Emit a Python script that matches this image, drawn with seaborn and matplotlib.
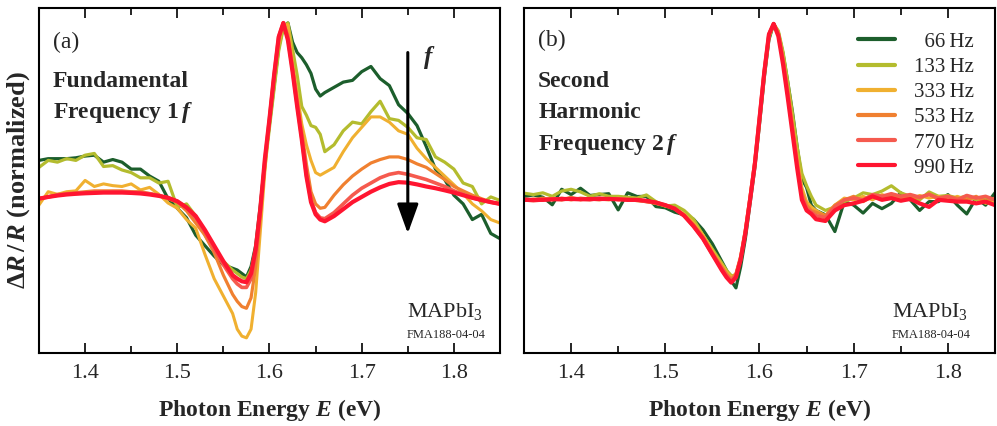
import numpy as np
import pandas as pd
import matplotlib
matplotlib.use("Agg")
import matplotlib.pyplot as plt
import seaborn as sns

# ---------------- data ----------------
energy = [1.35, 1.36, 1.37, 1.38, 1.39, 1.40, 1.41, 1.42, 1.43, 1.44,
          1.45, 1.46, 1.47, 1.48, 1.49, 1.50, 1.51, 1.52, 1.53, 1.54,
          1.55, 1.56, 1.565, 1.57, 1.575, 1.58, 1.585, 1.59, 1.595, 1.60,
          1.605, 1.61, 1.615, 1.62, 1.625, 1.63, 1.635, 1.64, 1.645, 1.65,
          1.655, 1.66, 1.67, 1.68, 1.69, 1.70, 1.71, 1.72, 1.73, 1.74,
          1.75, 1.76, 1.77, 1.78, 1.79, 1.80, 1.81, 1.82, 1.83, 1.84,
          1.85]

freq_labels = ["66", "133", "333", "533", "770", "990"]

# Panel (a): fundamental 1f
a_66 = [0.21, 0.22, 0.22, 0.22, 0.225, 0.235, 0.24, 0.20, 0.215, 0.20,
        0.16, 0.16, 0.12, 0.09, -0.01, -0.065, -0.12, -0.22, -0.28, -0.34,
        -0.39, -0.41, -0.42, -0.44, -0.46, -0.40, -0.28, -0.05, 0.20, 0.42,
        0.64, 0.86, 0.98, 1.0, 0.89, 0.83, 0.80, 0.76, 0.71, 0.62,
        0.58, 0.60, 0.63, 0.66, 0.67, 0.72, 0.75, 0.68, 0.64, 0.53,
        0.48, 0.41, 0.29, 0.16, 0.10, 0.01, -0.04, -0.13, -0.10, -0.21,
        -0.24]
a_133 = [0.17, 0.21, 0.20, 0.22, 0.21, 0.24, 0.25, 0.175, 0.18, 0.155,
         0.14, 0.11, 0.11, 0.08, 0.09, -0.06, -0.04, -0.11, -0.22, -0.31,
         -0.37, -0.42, -0.44, -0.46, -0.47, -0.42, -0.30, -0.08, 0.17, 0.40,
         0.62, 0.84, 0.97, 1.0, 0.85, 0.70, 0.52, 0.47, 0.41, 0.40,
         0.36, 0.26, 0.30, 0.38, 0.43, 0.42, 0.49, 0.55, 0.45, 0.44,
         0.40, 0.34, 0.33, 0.23, 0.20, 0.16, 0.08, 0.06, -0.04, 0.0,
         -0.02]
a_333 = [-0.046, 0.03, 0.015, 0.03, 0.035, 0.095, 0.06, 0.075, 0.065, 0.06,
         0.075, 0.04, 0.055, 0.015, -0.035, -0.065, -0.13, -0.18, -0.33, -0.47,
         -0.57, -0.67, -0.76, -0.80, -0.81, -0.76, -0.55, -0.20, 0.15, 0.45,
         0.70, 0.88, 0.99, 0.99, 0.77, 0.60, 0.42, 0.30, 0.21, 0.14,
         0.125, 0.14, 0.17, 0.26, 0.34, 0.40, 0.46, 0.46, 0.43, 0.38,
         0.36, 0.28, 0.22, 0.17, 0.12, 0.07, 0.02, -0.04, -0.08, -0.13,
         -0.15]
a_533 = [-0.01, 0.0, 0.015, 0.02, 0.025, 0.03, 0.035, 0.035, 0.035, 0.035,
         0.03, 0.03, 0.02, 0.01, -0.01, -0.03, -0.08, -0.15, -0.22, -0.32,
         -0.45, -0.56, -0.60, -0.63, -0.64, -0.58, -0.40, -0.12, 0.18, 0.44,
         0.69, 0.90, 1.0, 0.93, 0.75, 0.56, 0.38, 0.19, 0.03, -0.04,
         -0.065, -0.06, 0.01, 0.07, 0.12, 0.16, 0.195, 0.215, 0.23, 0.23,
         0.215, 0.19, 0.17, 0.135, 0.10, 0.06, 0.035, 0.01, -0.01, -0.03,
         -0.04]
a_770 = [-0.01, 0.0, 0.01, 0.017, 0.02, 0.024, 0.027, 0.028, 0.03, 0.03,
         0.027, 0.024, 0.018, 0.008, -0.005, -0.025, -0.065, -0.12, -0.20, -0.30,
         -0.39, -0.47, -0.50, -0.52, -0.52, -0.47, -0.32, -0.08, 0.21, 0.45,
         0.70, 0.92, 1.0, 0.91, 0.73, 0.53, 0.34, 0.13, -0.02, -0.09,
         -0.12, -0.125, -0.09, -0.04, 0.01, 0.05, 0.08, 0.11, 0.13, 0.14,
         0.13, 0.115, 0.10, 0.08, 0.06, 0.035, 0.015, -0.005, -0.018, -0.03,
         -0.04]
a_990 = [-0.01, 0.0, 0.008, 0.014, 0.018, 0.021, 0.023, 0.025, 0.025, 0.025,
         0.023, 0.02, 0.014, 0.006, -0.005, -0.025, -0.06, -0.11, -0.19, -0.28,
         -0.37, -0.45, -0.47, -0.485, -0.49, -0.44, -0.30, -0.07, 0.22, 0.45,
         0.70, 0.92, 1.0, 0.90, 0.72, 0.52, 0.33, 0.12, -0.03, -0.10,
         -0.13, -0.14, -0.11, -0.07, -0.03, 0.0, 0.03, 0.055, 0.075, 0.085,
         0.082, 0.072, 0.06, 0.05, 0.038, 0.025, 0.01, -0.005, -0.018, -0.03,
         -0.04]

# Panel (b): second harmonic 2f
b_66 = [0.019, 0.028, 0.015, -0.028, 0.06, 0.03, 0.066, 0.025, 0.03, 0.035,
        -0.057, 0.04, 0.019, 0.02, -0.038, -0.045, -0.07, -0.085, -0.11, -0.17,
        -0.25, -0.35, -0.40, -0.46, -0.50, -0.38, -0.22, -0.02, 0.18, 0.43,
        0.69, 0.91, 1.0, 0.95, 0.83, 0.67, 0.50, 0.30, 0.12, 0.07,
        -0.03, -0.06, -0.085, -0.18, -0.01, -0.03, -0.075, -0.02, -0.05, -0.02,
        0.04, 0.0, -0.06, -0.01, -0.01, 0.03, -0.03, -0.08, 0.01, -0.03,
        0.04]
b_133 = [0.038, 0.03, 0.04, 0.02, 0.05, 0.06, 0.045, 0.02, 0.035, 0.02,
         0.02, 0.015, 0.01, 0.028, -0.01, -0.035, -0.03, -0.06, -0.11, -0.20,
         -0.28, -0.36, -0.40, -0.43, -0.43, -0.34, -0.19, 0.0, 0.19, 0.44,
         0.70, 0.92, 1.0, 0.96, 0.84, 0.67, 0.49, 0.30, 0.15, 0.08,
         0.02, -0.03, -0.06, -0.04, -0.01, 0.01, 0.04, 0.03, 0.05, 0.08,
         0.04, 0.02, 0.0, 0.045, 0.02, 0.025, 0.01, 0.02, 0.0, 0.01,
         -0.01]
b_333 = [-0.005, 0.005, 0.0, 0.01, 0.0, 0.015, 0.0, 0.01, 0.005, 0.0,
         0.01, 0.0, 0.005, -0.01, -0.02, -0.035, -0.05, -0.08, -0.13, -0.20,
         -0.29, -0.37, -0.41, -0.44, -0.42, -0.33, -0.18, 0.01, 0.21, 0.46,
         0.72, 0.93, 1.0, 0.95, 0.81, 0.63, 0.44, 0.25, 0.07, -0.01,
         -0.04, -0.06, -0.09, -0.03, 0.01, 0.0, 0.02, 0.0, 0.03, 0.01,
         0.02, 0.0, 0.025, 0.01, 0.02, 0.0, 0.02, 0.0, 0.015, -0.02,
         0.0]
b_533 = [0.005, 0.0, 0.01, 0.0, 0.01, 0.0, 0.01, 0.005, 0.0, 0.01,
         0.0, 0.005, -0.005, -0.01, -0.02, -0.03, -0.05, -0.09, -0.14, -0.21,
         -0.30, -0.38, -0.42, -0.45, -0.42, -0.32, -0.17, 0.02, 0.22, 0.47,
         0.73, 0.94, 1.0, 0.95, 0.80, 0.62, 0.42, 0.22, 0.04, -0.03,
         -0.06, -0.07, -0.09, -0.03, 0.0, 0.02, -0.01, 0.02, 0.01, 0.03,
         0.0, 0.02, 0.01, 0.035, 0.0, 0.02, 0.01, 0.0, 0.02, -0.01,
         0.01]
b_770 = [0.0, -0.005, 0.0, 0.005, 0.0, 0.01, 0.005, 0.0, 0.01, 0.005,
         0.005, 0.0, 0.0, -0.01, -0.015, -0.03, -0.05, -0.09, -0.15, -0.22,
         -0.31, -0.39, -0.43, -0.46, -0.43, -0.33, -0.18, 0.01, 0.21, 0.47,
         0.73, 0.94, 1.0, 0.94, 0.79, 0.60, 0.40, 0.20, 0.02, -0.05,
         -0.07, -0.09, -0.10, -0.04, 0.0, 0.01, 0.0, 0.03, 0.02, 0.035,
         0.02, 0.03, 0.015, 0.03, 0.01, 0.02, 0.0, 0.025, 0.01, 0.02,
         0.0]
b_990 = [0.0, 0.0, 0.0, 0.003, 0.005, 0.005, 0.003, 0.005, 0.005, 0.005,
         0.003, 0.0, 0.0, -0.005, -0.015, -0.03, -0.05, -0.09, -0.15, -0.22,
         -0.31, -0.40, -0.44, -0.47, -0.44, -0.34, -0.19, 0.0, 0.20, 0.46,
         0.72, 0.94, 1.0, 0.93, 0.77, 0.58, 0.38, 0.18, 0.0, -0.06,
         -0.08, -0.11, -0.12, -0.06, -0.03, -0.02, -0.005, 0.02, 0.0, 0.01,
         -0.005, 0.005, -0.02, -0.04, 0.0, -0.005, -0.01, -0.01, -0.02, -0.01,
         -0.03]

x_ticks = [1.4, 1.5, 1.6, 1.7, 1.8]
x_tick_labels = ["1.4", "1.5", "1.6", "1.7", "1.8"]

# ---------------- style ----------------
colors = ["#1c5e2c", "#b4bc2e", "#f0b030", "#f08030", "#f55a4e", "#ff1530"]
widths = [2.3, 2.3, 2.2, 2.3, 2.6, 3.0]

sns.set_style("ticks")
plt.rcParams.update({
    "font.family": ["Liberation Serif", "DejaVu Serif"],
    "mathtext.fontset": "custom",
    "mathtext.rm": "Liberation Serif",
    "mathtext.it": "Liberation Serif:italic",
    "mathtext.bf": "Liberation Serif:bold",
    "mathtext.bfit": "Liberation Serif:italic:bold",
    "axes.edgecolor": "black",
    "axes.linewidth": 1.5,
})

fig = plt.figure(figsize=(9.97, 4.26), dpi=100)
ax_a = fig.add_axes([39 / 997, 1 - 353 / 426, 461 / 997, 345 / 426])
ax_b = fig.add_axes([524 / 997, 1 - 353 / 426, 471 / 997, 345 / 426])

series_a = [a_66, a_133, a_333, a_533, a_770, a_990]
series_b = [b_66, b_133, b_333, b_533, b_770, b_990]

for ax, series in ((ax_a, series_a), (ax_b, series_b)):
    for lab, vals, c, w in zip(freq_labels, series, colors, widths):
        df = pd.DataFrame({"E": energy, "R": vals})
        sns.lineplot(data=df, x="E", y="R", ax=ax, color=c, lw=w,
                     label=lab, sort=False, estimator=None)
    if ax.get_legend() is not None:
        ax.get_legend().remove()

ax_a.set_xlim(1.35, 1.84)
ax_a.set_ylim(-0.897, 1.086)
ax_b.set_xlim(1.35, 1.85)
ax_b.set_ylim(-0.87, 1.09)

for ax in (ax_a, ax_b):
    ax.set_xticks(x_ticks)
    ax.set_xticklabels(x_tick_labels)
    ax.set_xticks(np.arange(1.35, 1.851, 0.05), minor=True)
    ax.tick_params(axis="x", which="both", direction="in", top=True,
                   bottom=True, labelsize=16, pad=8, color="black")
    ax.tick_params(axis="x", which="major", length=7, width=1.2)
    ax.tick_params(axis="x", which="minor", length=5, width=1.2)
    ax.set_yticks([])
    for s in ax.spines.values():
        s.set_visible(True)
        s.set_linewidth(1.5)
        s.set_color("black")
    ax.set_xlabel(r"Photon Energy $\mathbfit{E}$ (eV)", fontsize=17,
                  fontweight="bold", labelpad=10)
    ax.set_ylabel("")

ax_a.set_ylabel(r"Δ$\mathbfit{R}\,\mathbf{/}\,\mathbfit{R}$ (normalized)",
                fontsize=19, fontweight="bold", labelpad=5)

# ---------------- annotations ----------------
ax_a.text(0.030, 0.901, "(a)", transform=ax_a.transAxes, fontsize=17,
          va="center", ha="left")
ax_a.text(0.030, 0.786, "Fundamental", transform=ax_a.transAxes, fontsize=17,
          fontweight="bold", va="center", ha="left")
ax_a.text(0.030, 0.696, r"Frequency 1$\,\mathbfit{f}$", transform=ax_a.transAxes,
          fontsize=17, fontweight="bold", va="center", ha="left")

ax_b.text(0.030, 0.907, "(b)", transform=ax_b.transAxes, fontsize=17,
          va="center", ha="left")
ax_b.text(0.030, 0.786, "Second", transform=ax_b.transAxes, fontsize=17,
          fontweight="bold", va="center", ha="left")
ax_b.text(0.030, 0.696, "Harmonic", transform=ax_b.transAxes, fontsize=17,
          fontweight="bold", va="center", ha="left")
ax_b.text(0.030, 0.603, r"Frequency 2$\,\mathbfit{f}$", transform=ax_b.transAxes,
          fontsize=17, fontweight="bold", va="center", ha="left")

for ax, fx in ((ax_a, 0.881), (ax_b, 0.862)):
    ax.text(fx, 0.119, r"MAPbI$_3$", transform=ax.transAxes, fontsize=16,
            va="center", ha="center")
    ax.text(fx + 0.002, 0.052, "FMA188-04-04", transform=ax.transAxes,
            fontsize=9, va="center", ha="center")

# frequency arrow in (a)
ax_a.annotate("", xy=(1.75, -0.21), xytext=(1.75, 0.83),
              arrowprops=dict(arrowstyle="-|>,head_width=0.65,head_length=1.8",
                              lw=2.2, color="black", shrinkA=0, shrinkB=0,
                              mutation_scale=10))
ax_a.text(1.773, 0.80, r"$\mathbfit{f}$", fontsize=18, va="center", ha="center")

# legend in (b)
handles = ax_b.get_lines()[:6]
leg_labels = ["\u200766\u2009Hz", "133\u2009Hz", "333\u2009Hz",
              "533\u2009Hz", "770\u2009Hz", "990\u2009Hz"]
leg = ax_b.legend(handles, leg_labels, loc="upper right",
                  bbox_to_anchor=(0.955, 0.93), frameon=False, fontsize=15,
                  handlelength=1.8, handletextpad=0.9, labelspacing=0.27,
                  borderaxespad=0, borderpad=0)
for h in leg.legend_handles:
    h.set_linewidth(3)

fig.savefig("out.png", dpi=100)
